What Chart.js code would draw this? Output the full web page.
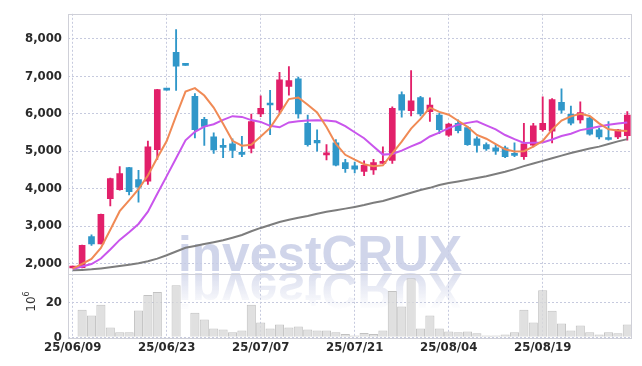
<!DOCTYPE html>
<html><head><meta charset="utf-8">
<script src="https://cdn.jsdelivr.net/npm/chart.js@4"></script>
<style>html,body{margin:0;padding:0;background:#fff;}canvas{display:block;}</style>
</head><body>
<canvas id="c" width="642" height="366"></canvas>
<script>
const dates = ['25/06/09','25/06/10','25/06/11','25/06/12','25/06/13','25/06/16','25/06/17','25/06/18','25/06/19','25/06/20',
'25/06/23','25/06/24','25/06/25','25/06/26','25/06/27','25/06/30','25/07/01','25/07/02','25/07/03','25/07/04',
'25/07/07','25/07/08','25/07/09','25/07/10','25/07/11','25/07/14','25/07/15','25/07/16','25/07/17','25/07/18',
'25/07/21','25/07/22','25/07/23','25/07/24','25/07/25','25/07/28','25/07/29','25/07/30','25/07/31','25/08/01',
'25/08/04','25/08/05','25/08/06','25/08/07','25/08/08','25/08/11','25/08/12','25/08/13','25/08/14','25/08/18',
'25/08/19','25/08/20','25/08/21','25/08/22','25/08/25','25/08/26','25/08/27','25/08/28','25/08/29','25/09/01'];
const tickDates = ['25/06/09','25/06/23','25/07/07','25/07/21','25/08/04','25/08/19'];
const openP  = [1880,1890,2720,2520,3730,3970,4560,4240,4200,5040, 6630,7640,7290,6465,5850,5380,5115,5195,4955,5070,
                5990,6270,6100,6730,6930,5745,5290,4900,5220,4695, 4605,4460,4500,4670,4755,6510,6080,6430,6055,5965,
                5425,5745,5630,5325,5175,5090,5090,4940,4855,5160, 5570,5530,6300,5985,5835,5880,5570,5350,5380,5410];
const highP  = [1930,2490,2766,3320,4280,4590,4570,4490,5265,6650, 6630,8245,7290,6535,5905,5485,5325,5325,5395,5990,
                6475,6620,7105,7255,6975,5965,5570,5175,5305,4780, 4710,4740,4780,5115,6185,6580,7150,6465,6420,6010,
                5745,5835,5660,5380,5220,5175,5135,5220,5745,5745, 6450,6405,6665,6200,6315,5905,5615,5790,5580,6055];
const lowP   = [1880,1885,2485,2520,3540,3960,3830,3640,4110,4780, 6630,6620,7290,5350,5150,4940,4825,4825,4850,4955,
                5920,5440,6010,6490,5880,5135,5000,4765,4605,4430, 4415,4345,4380,4670,4675,5905,5940,5940,5790,5465,
                5395,5485,5150,4975,5020,4910,4825,4850,4780,5115, 5530,5220,6010,5700,5745,5425,5325,5290,5330,5290];
const closeP = [1915,2485,2520,3310,4270,4400,3920,4040,5115,6640, 6630,7270,7290,5570,5660,5030,5100,5020,4915,5790,
                6140,6230,6900,6885,5990,5175,5220,4955,4625,4535, 4520,4620,4695,4730,6140,6095,6345,5990,6230,5570,
                5720,5545,5175,5150,5060,5000,4855,4885,5195,5675, 5745,6375,6095,5745,6030,5455,5380,5310,5570,5965];
const volume = [0,16.0,12.7,18.9,5.7,3.0,3.0,15.6,24.6,26.3, 0,30.3,0,14.3,10.3,5.1,4.6,2.9,4.0,18.9,
                8.6,5.1,7.4,5.7,6.3,4.6,4.0,4.0,3.0,1.9, 1.1,2.5,1.9,4.0,26.9,17.9,34.3,5.1,12.6,5.1,
                3.4,2.9,3.4,2.3,1.1,1.1,1.7,3.0,16.0,8.6, 27.4,15.4,8.0,4.0,6.9,2.9,1.7,2.9,2.3,7.4];
const ma5    = [1863,1990,2124,2416,2900,3397,3684,3988,4349,4823, 5269,5939,6589,6680,6484,6164,5730,5276,5145,5171,
                5393,5619,5995,6389,6429,6236,6034,5645,5193,4902, 4771,4651,4599,4620,4941,5256,5601,5860,6160,6046,
                5971,5811,5648,5432,5330,5186,5048,4990,4999,5122, 5271,5575,5817,5927,5998,5940,5741,5584,5549,5536];
const ma10   = [1856,1920,1987,2133,2375,2630,2837,3056,3383,3862, 4333,4812,5289,5515,5654,5717,5835,5933,5913,5828,
                5779,5675,5636,5767,5800,5815,5827,5820,5791,5666, 5504,5343,5122,4907,4922,5014,5126,5230,5390,5494,
                5614,5706,5754,5796,5688,5579,5430,5319,5216,5226, 5229,5312,5404,5463,5560,5606,5658,5701,5738,5767];
const maLong = [1820,1830,1845,1870,1900,1935,1970,2010,2060,2130, 2220,2320,2420,2470,2520,2570,2620,2690,2760,2860,
                2950,3030,3110,3170,3220,3270,3330,3380,3420,3465, 3510,3560,3620,3670,3740,3815,3890,3960,4020,4095,
                4150,4190,4235,4280,4330,4390,4450,4520,4600,4670, 4740,4810,4880,4950,5010,5070,5120,5190,5260,5320];
const priceTicks = [2000,3000,4000,5000,6000,7000,8000];
const volumeTicks = [0,20];

const UP = '#e2206a', DOWN = '#3097c9';
const candleColors = closeP.map((c,i) => c > openP[i] ? UP : DOWN);
const bodies = openP.map((o,i) => [o, closeP[i]]);
const wicks = lowP.map((l,i) => [l, highP[i]]);

const tickFont = {family: '"DejaVu Sans Condensed","DejaVu Sans",sans-serif', size: 13, weight: 'bold'};
const gridColor = '#c6cade';

const watermark = {
  id: 'wm',
  beforeDatasetsDraw(chart) {
    const ctx = chart.ctx;
    ctx.save();
    ctx.font = 'bold 50px "Liberation Sans", Arial, sans-serif';
    const txt = 'investCRUX';
    const w = ctx.measureText(txt).width;
    ctx.translate(178, 271);
    ctx.scale(284 / w, 1);
    ctx.fillStyle = 'rgba(200,206,230,0.85)';
    ctx.fillText(txt, 0, 0);
    ctx.scale(1, -1);
    const g = ctx.createLinearGradient(0, -2, 0, -36);
    g.addColorStop(0, 'rgba(205,210,232,0.75)');
    g.addColorStop(1, 'rgba(205,210,232,0.05)');
    ctx.fillStyle = g;
    ctx.fillText(txt, 0, -2);
    ctx.restore();
  },
  afterDatasetsDraw(chart) {
    const ctx = chart.ctx;
    ctx.save();
    ctx.strokeStyle = '#cfd0d8';
    ctx.lineWidth = 1;
    ['y','yv'].forEach(id => {
      const s = chart.scales[id];
      const a = chart.chartArea;
      ctx.strokeRect(Math.round(a.left) + 0.5, Math.round(s.top) + 0.5, Math.round(a.right - a.left) - 1, Math.round(s.bottom - s.top));
    });
    ctx.fillStyle = '#333';
    ctx.translate(32, 304);
    ctx.rotate(-Math.PI / 2);
    ctx.textAlign = 'center';
    ctx.textBaseline = 'middle';
    ctx.font = '12px "DejaVu Sans", sans-serif';
    ctx.fillText('10', 0, 0);
    ctx.font = '8px "DejaVu Sans", sans-serif';
    ctx.fillText('6', 10, -5);
    ctx.restore();
  }
};

new Chart(document.getElementById('c'), {
  type: 'bar',
  data: {
    labels: dates,
    datasets: [
      {type: 'line', label: 'MA5', data: ma5, yAxisID: 'y', borderColor: '#f08a55', borderWidth: 2, pointRadius: 0, tension: 0, order: 0},
      {type: 'line', label: 'MA10', data: ma10, yAxisID: 'y', borderColor: '#c955ec', borderWidth: 2, pointRadius: 0, tension: 0, order: 0},
      {type: 'line', label: 'MA', data: maLong, yAxisID: 'y', borderColor: '#7d7d7d', borderWidth: 2, pointRadius: 0, tension: 0, order: 0},
      {label: 'body', data: bodies, yAxisID: 'y', backgroundColor: candleColors, borderWidth: 0, barThickness: 6, minBarLength: 2, grouped: false, order: 1},
      {label: 'wick', data: wicks, yAxisID: 'y', backgroundColor: candleColors, borderWidth: 0, barThickness: 1.2, grouped: false, order: 2},
      {label: 'volume', data: volume, yAxisID: 'yv', backgroundColor: 'rgba(216,216,216,0.8)', borderColor: '#c2c2c2', borderWidth: 1, barPercentage: 0.97, categoryPercentage: 1, grouped: false, order: 3}
    ]
  },
  options: {
    responsive: false,
    animation: false,
    devicePixelRatio: 1,
    layout: {padding: {left: 0, right: 10, top: 9, bottom: 0}},
    plugins: {legend: {display: false}, tooltip: {enabled: false}},
    scales: {
      x: {
        type: 'category',
        offset: true,
        grid: {offset: false, color: gridColor, drawTicks: false},
        border: {display: false, dash: [2, 2]},
        ticks: {
          autoSkip: false, maxRotation: 0, padding: 3, color: '#2a2a2a', font: tickFont,
          callback: function(v, i) { const l = this.getLabelForValue(v); return tickDates.includes(l) ? l : null; }
        },
        afterFit: s => { s.height = 28.7; }
      },
      yv: {
        type: 'linear', position: 'left', stack: 'p', stackWeight: 64.6,
        min: 0, max: 37,
        grid: {color: gridColor, drawTicks: false},
        border: {display: false, dash: [2, 2]},
        afterBuildTicks: s => { s.ticks = volumeTicks.map(v => ({value: v})); },
        ticks: {padding: 6, color: '#2a2a2a', font: tickFont, callback: v => String(v)},
        afterFit: s => { s.width = 68; }
      },
      y: {
        type: 'linear', position: 'left', stack: 'p', stackWeight: 263.7,
        min: 1730, max: 8665,
        grid: {color: gridColor, drawTicks: false},
        border: {display: false, dash: [2, 2]},
        afterBuildTicks: s => { s.ticks = priceTicks.map(v => ({value: v})); },
        ticks: {padding: 6, color: '#2a2a2a', font: tickFont, callback: v => v.toLocaleString('en-US')},
        afterFit: s => { s.width = 68; }
      }
    }
  },
  plugins: [watermark]
});
</script>
</body></html>
